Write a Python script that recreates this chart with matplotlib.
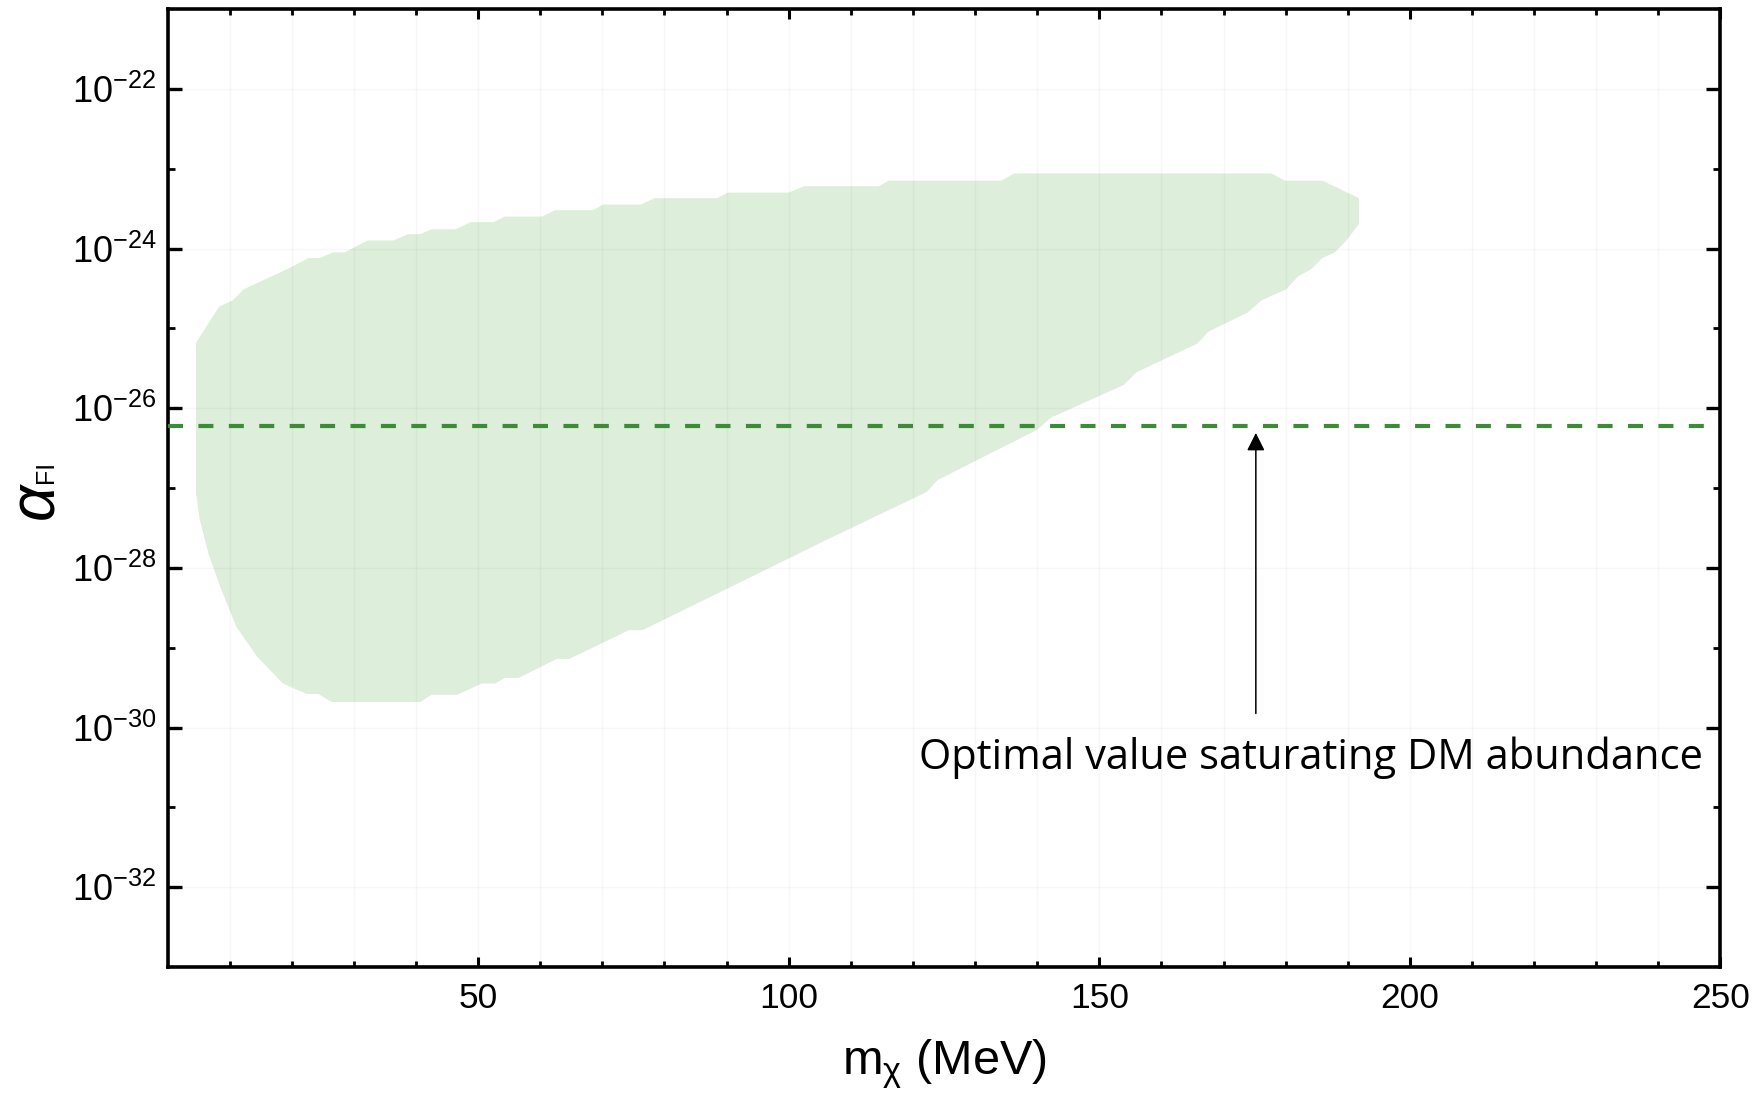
import matplotlib
matplotlib.use("Agg")
import matplotlib.pyplot as plt
from matplotlib.ticker import FixedLocator, NullFormatter

plt.rcParams['font.family'] = 'Liberation Sans'
plt.rcParams['mathtext.fontset'] = 'custom'
plt.rcParams['mathtext.rm'] = 'Liberation Sans'
plt.rcParams['mathtext.it'] = 'Liberation Sans:italic'
plt.rcParams['mathtext.default'] = 'regular'

# boundary of the allowed region, traced counter-clockwise from the left edge
m_chi = [4.6, 4.6, 8.3, 10.5, 12.3, 14.8, 19.5, 22.7, 24.5, 26.6, 28.5, 32.2, 36.4,
         38.7, 40.7, 42.5, 46.4, 48.8, 52.5, 54.3, 60.3, 62.4, 68.5, 70.1, 76.2,
         78.4, 88.5, 90.2, 100.0, 102.5, 114.5, 116.1, 134.3, 136.3, 177.7, 179.9,
         185.9, 191.8, 191.8, 189.9, 187.9, 185.9, 184.1, 182.0, 180.1, 176.1, 173.9,
         167.6, 165.8, 156.0, 153.9, 142.2, 140.0, 124.0, 122.2, 106.1, 76.5, 74.3,
         64.7, 62.7, 56.5, 54.3, 52.7, 50.6, 46.6, 42.5, 40.7, 26.4, 24.3, 22.4,
         18.6, 14.4, 11.1, 8.5, 6.6, 5.2]
alpha_fi = [8.51e-28, 6.61e-26, 1.86e-25, 2.24e-25, 3.09e-25, 3.80e-25, 5.62e-25,
            7.59e-25, 7.59e-25, 8.91e-25, 8.91e-25, 1.26e-24, 1.26e-24, 1.51e-24,
            1.51e-24, 1.74e-24, 1.74e-24, 2.14e-24, 2.14e-24, 2.51e-24, 2.51e-24,
            3.02e-24, 3.02e-24, 3.55e-24, 3.55e-24, 4.27e-24, 4.27e-24, 5.01e-24,
            5.01e-24, 6.03e-24, 6.03e-24, 7.08e-24, 7.08e-24, 8.71e-24, 8.71e-24,
            7.08e-24, 7.08e-24, 4.27e-24, 2.04e-24, 1.29e-24, 8.91e-25, 7.59e-25,
            5.50e-25, 4.47e-25, 3.09e-25, 2.24e-25, 1.58e-25, 9.12e-26, 6.46e-26,
            2.82e-26, 1.95e-26, 7.59e-27, 5.37e-27, 1.26e-27, 8.91e-28, 2.24e-28,
            1.66e-29, 1.66e-29, 7.24e-30, 7.24e-30, 4.17e-30, 4.17e-30, 3.55e-30,
            3.55e-30, 2.57e-30, 2.57e-30, 2.09e-30, 2.09e-30, 2.63e-30, 2.63e-30,
            3.55e-30, 7.76e-30, 1.82e-29, 5.75e-29, 1.51e-28, 3.98e-28]

alpha_opt = 6.03e-27
line_m = [0, 247.5]

fig = plt.figure(figsize=(17.57, 10.94), dpi=100)
ax = fig.add_axes([167.5 / 1757, 1 - 967 / 1094, 1553 / 1757, 958 / 1094])

ax.fill(m_chi, alpha_fi, color='#ddeedb', lw=0, zorder=1)
ax.plot(line_m, [alpha_opt, alpha_opt], color='#3d8b37', lw=3.0,
        dashes=(3.6, 3.7), zorder=3)

ax.annotate('', xy=(175.2, 4.9e-27), xytext=(175.2, 1.5e-30),
            arrowprops=dict(arrowstyle='-|>', color='black', lw=1.1,
                            mutation_scale=27, shrinkA=0, shrinkB=0))
ax.text(247.2, 3.0e-31, 'Optimal value saturating DM abundance',
        ha='right', va='baseline', fontsize=30, family='Open Sans')

ax.set_yscale('log')
ax.set_xlim(0, 250)
ax.set_ylim(1e-33, 1e-21)

ax.xaxis.set_major_locator(FixedLocator([50, 100, 150, 200, 250]))
ax.xaxis.set_minor_locator(FixedLocator([m for m in range(10, 250, 10) if m % 50]))
ax.yaxis.set_major_locator(FixedLocator([1e-32, 1e-30, 1e-28, 1e-26, 1e-24, 1e-22]))
ax.yaxis.set_minor_locator(FixedLocator([1e-31, 1e-29, 1e-27, 1e-25, 1e-23]))
ax.yaxis.set_minor_formatter(NullFormatter())

ax.tick_params(which='both', direction='in', top=True, right=True, color='black')
ax.tick_params(axis='x', which='major', length=7.5, width=2.2, labelsize=25.5, pad=11)
ax.tick_params(axis='x', which='minor', length=4, width=2.0)
ax.tick_params(axis='y', which='major', length=10, width=2.4, labelsize=26, pad=8)
ax.tick_params(axis='y', which='minor', length=5, width=2.0)

for s in ax.spines.values():
    s.set_linewidth(2.6)

ax.set_axisbelow('line')
ax.xaxis.grid(True, which='both', color='black', alpha=0.03, lw=1)
ax.yaxis.grid(True, which='major', color='black', alpha=0.03, lw=1)

ax.set_xlabel(r'm$_{\chi}$ (MeV)', fontsize=35, labelpad=16)

# y label: large italic alpha with a small upright subscript
fig.text(53 / 1757, 1 - 501 / 1094, '\u03b1', rotation=90, rotation_mode='anchor',
         ha='center', va='baseline', fontsize=46, style='italic')
fig.text(53 / 1757, 1 - 472 / 1094, 'FI', rotation=90, rotation_mode='anchor',
         ha='center', va='baseline', fontsize=18)

fig.savefig('out.png', dpi=100)
